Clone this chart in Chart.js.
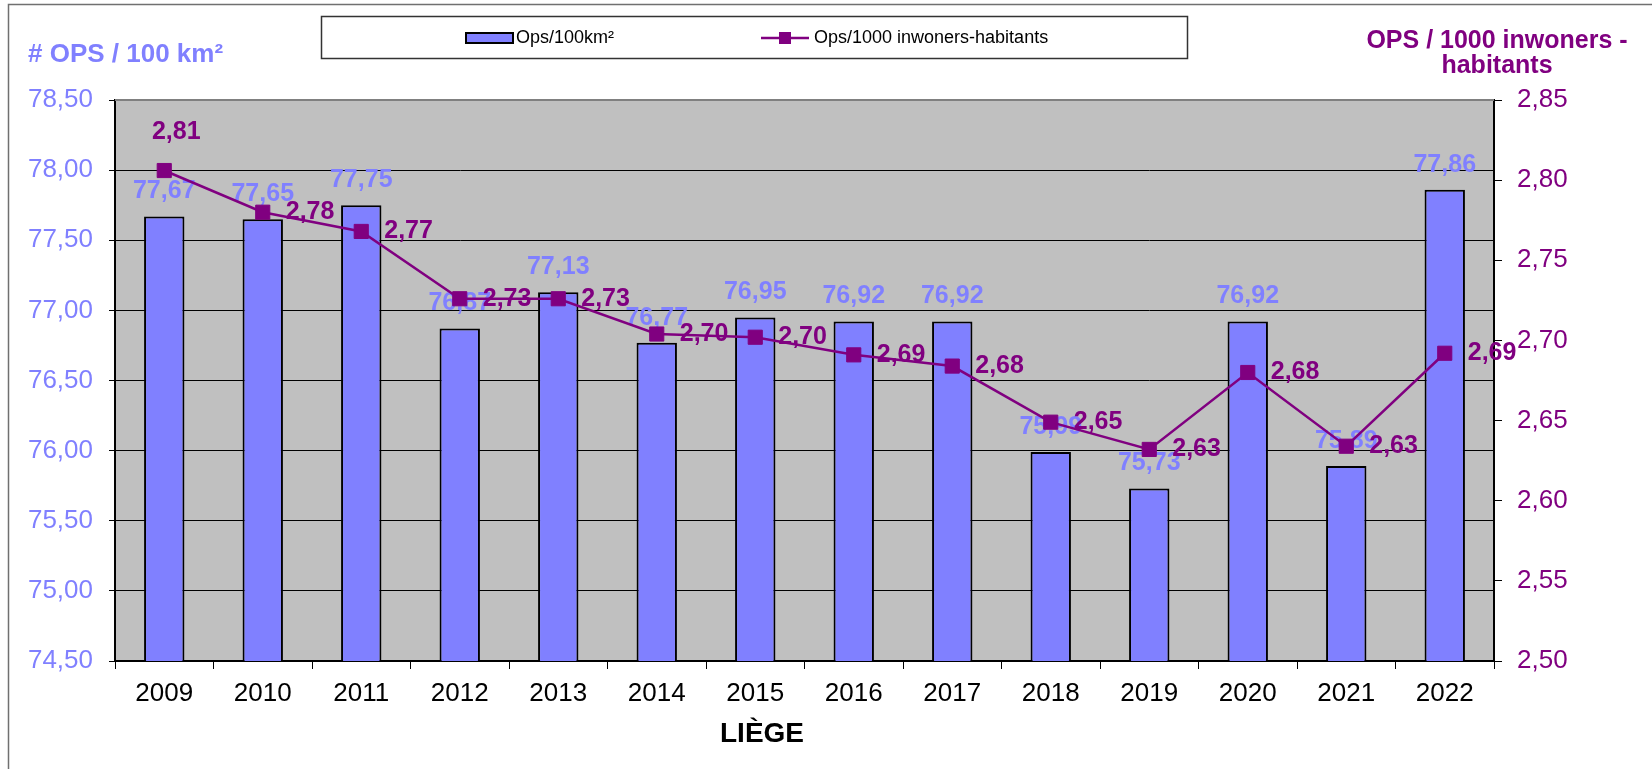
<!DOCTYPE html>
<html>
<head>
<meta charset="utf-8">
<title>Liège - OPS</title>
<script src="https://cdn.jsdelivr.net/npm/chart.js@4.4.1/dist/chart.umd.min.js"></script>
<style>
  html, body { margin: 0; padding: 0; background: #ffffff; }
  #wrap { position: relative; width: 1652px; height: 769px; }
</style>
</head>
<body>
<div id="wrap"><canvas id="chart" width="1652" height="769"></canvas></div>
<script>
// data
const years = ['2009', '2010', '2011', '2012', '2013', '2014', '2015', '2016', '2017', '2018', '2019', '2020', '2021', '2022'];
const opsPer100km2 = [77.67, 77.65, 77.75, 76.87, 77.13, 76.77, 76.95, 76.92, 76.92, 75.99, 75.73, 76.92, 75.89, 77.86];
const opsPer1000Inh = [2.806, 2.780, 2.768, 2.726, 2.726, 2.704, 2.702, 2.691, 2.684, 2.649, 2.632, 2.680, 2.634, 2.692];

const leftTicks = [74.5, 75, 75.5, 76, 76.5, 77, 77.5, 78, 78.5];
const rightTicks = [2.5, 2.55, 2.6, 2.65, 2.7, 2.75, 2.8, 2.85];

const BAR_COLOR = '#8080ff';
const LINE_COLOR = '#800080';
const FONT = '"Liberation Sans", Arial, sans-serif';

const fmt = (v) => v.toFixed(2).replace('.', ',');

// grey plot background + outer frame
const backgroundPlugin = {
  id: 'background',
  beforeDraw(chart) {
    const { ctx, chartArea: a } = chart;
    ctx.save();
    ctx.fillStyle = '#c0c0c0';
    ctx.fillRect(a.left, a.top, a.right - a.left, a.bottom - a.top);
    ctx.strokeStyle = '#707070';
    ctx.lineWidth = 1.5;
    ctx.strokeRect(8.5, 4.5, 1700, 800);
    ctx.restore();
  },
  afterDraw(chart) {
    const { ctx, chartArea: a } = chart;
    ctx.save();
    // top edge of the plot
    ctx.strokeStyle = '#808080';
    ctx.lineWidth = 2;
    ctx.beginPath();
    ctx.moveTo(a.left, a.top);
    ctx.lineTo(a.right, a.top);
    ctx.stroke();
    ctx.restore();
  }
};

// value labels; bar labels go under the line, line labels on top
const labelsPlugin = {
  id: 'valueLabels',
  afterDatasetDraw(chart, args) {
    if (chart.data.datasets[args.index].type !== 'bar') return;
    const { ctx } = chart;
    ctx.save();
    ctx.font = 'bold 25px ' + FONT;
    ctx.fillStyle = BAR_COLOR;
    ctx.textAlign = 'center';
    ctx.textBaseline = 'middle';
    args.meta.data.forEach((el, i) => {
      ctx.fillText(fmt(opsPer100km2[i]), el.x, el.y - 25);
    });
    ctx.restore();
  },
  afterDatasetsDraw(chart) {
    const { ctx } = chart;
    const idx = chart.data.datasets.findIndex(d => d.type === 'line');
    const meta = chart.getDatasetMeta(idx);
    ctx.save();
    ctx.font = 'bold 25px ' + FONT;
    ctx.fillStyle = LINE_COLOR;
    ctx.textBaseline = 'middle';
    meta.data.forEach((el, i) => {
      const txt = fmt(opsPer1000Inh[i]);
      if (i === 0) {
        ctx.textAlign = 'center';
        ctx.fillText(txt, el.x + 12, el.y - 38);
      } else {
        ctx.textAlign = 'left';
        ctx.fillText(txt, el.x + 23, el.y);
      }
    });
    ctx.restore();
  }
};

// axis titles, legend box and the category title
const textPlugin = {
  id: 'texts',
  afterDraw(chart) {
    const { ctx } = chart;
    ctx.save();
    ctx.textBaseline = 'middle';

    ctx.font = 'bold 26px ' + FONT;
    ctx.fillStyle = BAR_COLOR;
    ctx.textAlign = 'left';
    ctx.fillText('# OPS / 100 km²', 28, 55);

    ctx.font = 'bold 25px ' + FONT;
    ctx.fillStyle = LINE_COLOR;
    ctx.textAlign = 'center';
    ctx.fillText('OPS / 1000 inwoners -', 1497, 41);
    ctx.fillText('habitants', 1497, 66);

    ctx.font = 'bold 28px ' + FONT;
    ctx.fillStyle = '#000';
    ctx.fillText('LIÈGE', 762, 734);

    // legend
    ctx.strokeStyle = '#333';
    ctx.lineWidth = 1.5;
    ctx.strokeRect(321.5, 16.5, 866, 42);

    ctx.fillStyle = BAR_COLOR;
    ctx.fillRect(466, 33, 47, 10);
    ctx.strokeStyle = '#000';
    ctx.lineWidth = 2;
    ctx.strokeRect(466, 33, 47, 10);

    ctx.strokeStyle = LINE_COLOR;
    ctx.lineWidth = 2.5;
    ctx.beginPath();
    ctx.moveTo(761, 38);
    ctx.lineTo(809, 38);
    ctx.stroke();
    ctx.fillStyle = LINE_COLOR;
    ctx.fillRect(779, 32, 12, 12);

    ctx.font = '18px ' + FONT;
    ctx.fillStyle = '#000';
    ctx.textAlign = 'left';
    ctx.fillText('Ops/100km²', 516, 38);
    ctx.fillText('Ops/1000 inwoners-habitants', 814, 38);
    ctx.restore();
  }
};

new Chart(document.getElementById('chart'), {
  data: {
    labels: years,
    datasets: [
      {
        type: 'line',
        label: 'Ops/1000 inwoners-habitants',
        data: opsPer1000Inh,
        yAxisID: 'y2',
        order: 0,
        borderColor: LINE_COLOR,
        backgroundColor: LINE_COLOR,
        borderWidth: 2.5,
        pointStyle: 'rect',
        pointRadius: 10,
        pointBorderWidth: 1,
        pointBackgroundColor: LINE_COLOR,
        pointBorderColor: LINE_COLOR,
        tension: 0,
        fill: false
      },
      {
        type: 'bar',
        label: 'Ops/100km²',
        data: opsPer100km2,
        yAxisID: 'y',
        order: 1,
        backgroundColor: BAR_COLOR,
        borderColor: '#000',
        borderWidth: 2,
        borderSkipped: false,
        categoryPercentage: 1,
        barPercentage: 0.41
      }
    ]
  },
  options: {
    responsive: false,
    animation: false,
    layout: { padding: { top: 100, left: 0, right: 0, bottom: 0 } },
    plugins: {
      legend: { display: false },
      tooltip: { enabled: false }
    },
    scales: {
      x: {
        offset: true,
        afterFit: (s) => { s.height = 108; },
        grid: { offset: true, drawOnChartArea: false, drawTicks: true, tickLength: 8, color: '#000' },
        border: { display: true, color: '#000', width: 2 },
        ticks: { color: '#000', padding: 9, font: { family: FONT, size: 26 } }
      },
      y: {
        position: 'left',
        min: leftTicks[0],
        max: leftTicks[leftTicks.length - 1],
        afterFit: (s) => { s.width = 115; },
        afterBuildTicks: (s) => { s.ticks = leftTicks.map(v => ({ value: v })); },
        grid: { color: '#000', lineWidth: 1, tickLength: 6 },
        border: { display: true, color: '#000', width: 2 },
        ticks: {
          color: BAR_COLOR,
          padding: 16,
          font: { family: FONT, size: 26 },
          callback: (v) => fmt(v)
        }
      },
      y2: {
        position: 'right',
        min: rightTicks[0],
        max: rightTicks[rightTicks.length - 1],
        afterFit: (s) => { s.width = 158; },
        afterBuildTicks: (s) => { s.ticks = rightTicks.map(v => ({ value: v })); },
        grid: { drawOnChartArea: false, color: '#000', tickLength: 8 },
        border: { display: true, color: '#000', width: 2 },
        ticks: {
          color: LINE_COLOR,
          padding: 15,
          font: { family: FONT, size: 26 },
          callback: (v) => fmt(v)
        }
      }
    }
  },
  plugins: [backgroundPlugin, labelsPlugin, textPlugin]
});
</script>
</body>
</html>
